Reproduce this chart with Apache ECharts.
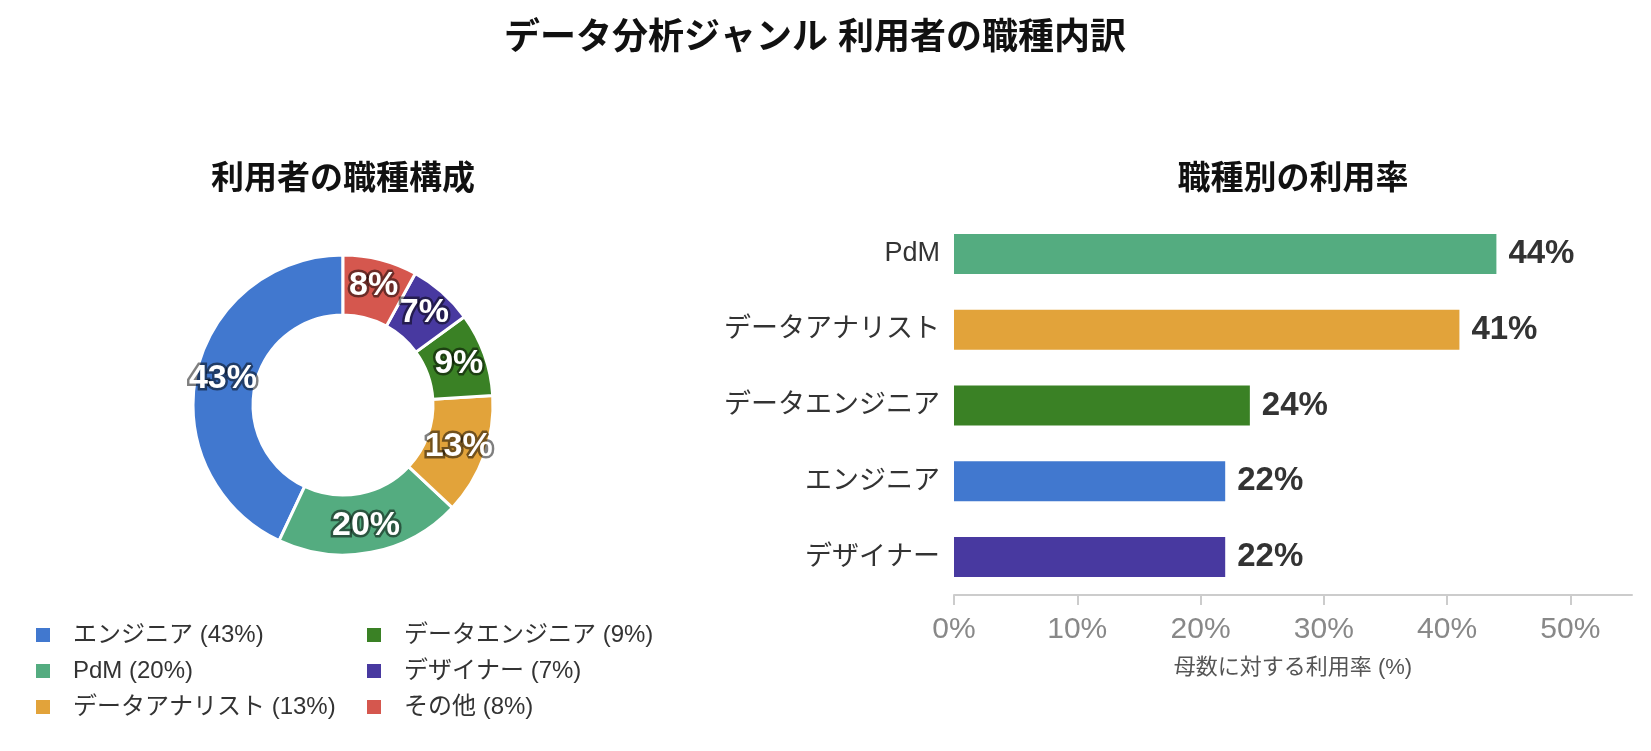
<!DOCTYPE html>
<html>
<head>
<meta charset="utf-8">
<script src="https://cdn.jsdelivr.net/npm/echarts@6/dist/echarts.min.js"></script>
<style>
  html, body { margin: 0; padding: 0; background: #fff; }
  #chart { width: 1651px; height: 751px; }
</style>
</head>
<body>
<div id="chart"></div>
<script>
// composition of users (pie)
const shareNames = ['エンジニア', 'PdM', 'データアナリスト', 'データエンジニア', 'デザイナー', 'その他'];
const shareValues = [43, 20, 13, 9, 7, 8];

// usage rate by job type (bar)
const rateNames = ['PdM', 'データアナリスト', 'データエンジニア', 'エンジニア', 'デザイナー'];
const rateValues = [44, 41, 24, 22, 22];

const rateTicks = [0, 10, 20, 30, 40, 50];

const jobColors = {
    'エンジニア': '#4178cf',
    'PdM': '#54ac80',
    'データアナリスト': '#e2a33a',
    'データエンジニア': '#3a8125',
    'デザイナー': '#4839a0',
    'その他': '#d5574e'
};

const FONT = "'Liberation Sans', 'Noto Sans CJK JP', sans-serif";

const chart = echarts.init(document.getElementById('chart'));

const legendText = function (name) {
    const i = shareNames.indexOf(name);
    return `${name} (${shareValues[i]}%)`;
};

const legendBase = {
    orient: 'vertical',
    top: 618,
    icon: 'rect',
    itemWidth: 16,
    itemHeight: 16,
    itemGap: 12,
    selectedMode: false,
    formatter: legendText,
    textStyle: {
        fontFamily: FONT,
        fontSize: 24,
        color: '#333',
        padding: [0, 0, 0, 17]
    }
};

const option = {
    animation: false,
    textStyle: { fontFamily: FONT },
    title: [
        {
            text: 'データ分析ジャンル 利用者の職種内訳',
            left: 810,
            top: 16,
            textAlign: 'center',
            textStyle: { fontSize: 36, fontWeight: 'bold', color: '#111', fontFamily: FONT }
        },
        {
            text: '利用者の職種構成',
            left: 338,
            top: 158,
            textAlign: 'center',
            textStyle: { fontSize: 33, fontWeight: 'bold', color: '#111', fontFamily: FONT }
        },
        {
            text: '職種別の利用率',
            left: 1288,
            top: 158,
            textAlign: 'center',
            textStyle: { fontSize: 33, fontWeight: 'bold', color: '#111', fontFamily: FONT }
        }
    ],
    legend: [
        Object.assign({}, legendBase, { left: 29, data: shareNames.slice(0, 3) }),
        Object.assign({}, legendBase, { left: 360, data: shareNames.slice(3) })
    ],
    grid: {
        left: 954,
        right: 19,
        top: 216,
        bottom: 156
    },
    xAxis: {
        type: 'value',
        min: 0,
        max: 55,
        interval: 10,
        name: '母数に対する利用率 (%)',
        nameLocation: 'middle',
        nameGap: 62,
        nameTextStyle: { fontSize: 22, color: '#555', fontFamily: FONT },
        axisLine: { show: true, lineStyle: { color: '#ccc', width: 2 } },
        axisTick: { show: true, length: 10, customValues: rateTicks, lineStyle: { color: '#ccc', width: 2 } },
        axisLabel: {
            customValues: rateTicks,
            formatter: '{value}%',
            fontSize: 30,
            color: '#888',
            margin: 20
        },
        splitLine: { show: false }
    },
    yAxis: {
        type: 'category',
        inverse: true,
        data: rateNames,
        axisLine: { show: false },
        axisTick: { show: false },
        axisLabel: { fontSize: 27, color: '#333', margin: 14 }
    },
    series: [
        {
            name: '職種構成',
            type: 'pie',
            center: [343, 405],
            radius: [90, 150],
            startAngle: 90,
            clockwise: false,
            avoidLabelOverlap: false,
            labelLayout: { hideOverlap: false },
            itemStyle: { borderColor: '#fff', borderWidth: 3 },
            label: {
                show: true,
                position: 'inside',
                formatter: '{c}%',
                fontSize: 34,
                fontWeight: 'bold',
                color: '#fff',
                textBorderColor: 'rgba(0,0,0,0.5)',
                textBorderWidth: 5
            },
            labelLine: { show: false },
            emphasis: { disabled: true },
            data: shareNames.map((n, i) => ({
                name: n,
                value: shareValues[i],
                itemStyle: { color: jobColors[n] }
            }))
        },
        {
            name: '利用率',
            type: 'bar',
            barWidth: 40,
            label: {
                show: true,
                position: 'right',
                distance: 12,
                formatter: '{c}%',
                fontSize: 33,
                fontWeight: 'bold',
                color: '#333'
            },
            data: rateNames.map((n, i) => ({
                value: rateValues[i],
                itemStyle: { color: jobColors[n] }
            }))
        }
    ]
};

chart.setOption(option);
</script>
</body>
</html>
